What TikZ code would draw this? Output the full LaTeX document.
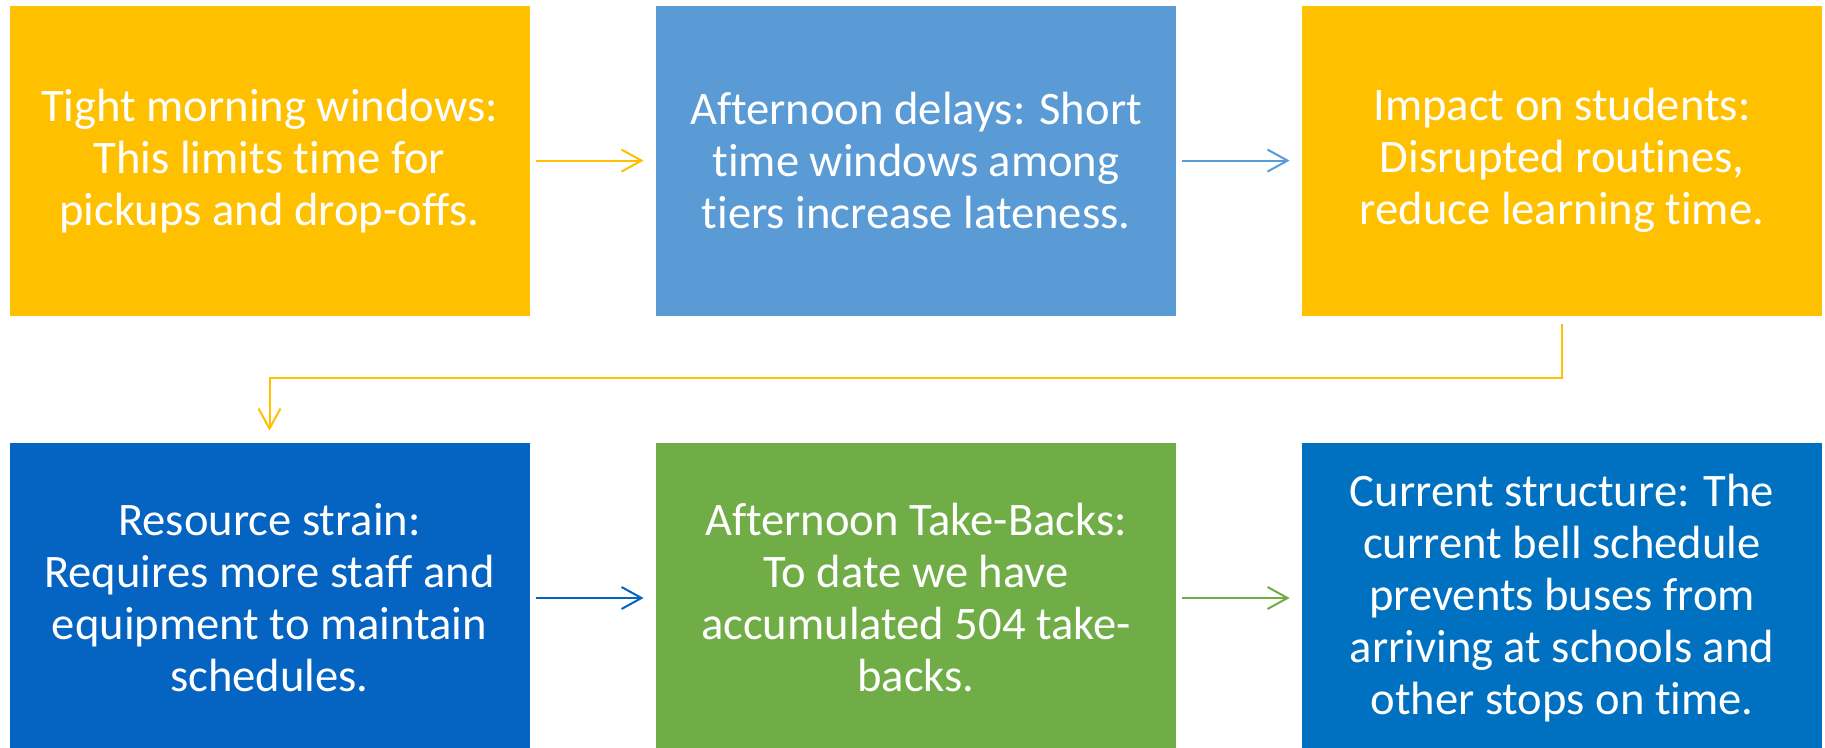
\documentclass[tikz,border=0pt]{standalone}
\usepackage{fontspec}
\setmainfont{Carlito}[Ligatures=NoCommon]
\usetikzlibrary{arrows.meta}
\definecolor{cyellow}{HTML}{FFC000}
\definecolor{clblue}{HTML}{5B9BD5}
\definecolor{cdblue}{HTML}{0563C1}
\definecolor{cgreen}{HTML}{70AD47}
\definecolor{cmblue}{HTML}{0070C0}
\tikzset{
  stepbox/.style={rectangle, minimum width=260pt, minimum height=155pt, inner sep=0pt,
    text=white, align=center, font=\fontsize{23.3}{26}\selectfont},
  flow/.style={line width=1pt, -{Straight Barb[length=10pt,width=11pt,line width=1pt]},
    shorten <=3pt, shorten >=6pt}
}
\begin{document}
\begin{tikzpicture}[x=0.5pt,y=-0.5pt]
\path[use as bounding box, fill=white] (0,0) rectangle (1825,748);
\node[stepbox, fill=cyellow] (b1) at (269.5,160.6) {Tight morning windows:\\This limits time for\\pickups and drop-offs.};
\node[stepbox, fill=clblue] (b2) at (916,160.6) {Afternoon delays: Short\\time windows among\\tiers increase lateness.};
\node[stepbox, fill=cyellow] (b3) at (1562,160.6) {Impact on students:\\Disrupted routines,\\reduce learning time.};
\node[stepbox, fill=cdblue] (b4) at (269.5,598) {Resource strain:\\Requires more staff and\\equipment to maintain\\schedules.};
\node[stepbox, fill=cgreen] (b5) at (916,598) {Afternoon Take-Backs:\\To date we have\\accumulated 504 take-\\backs.};
\node[stepbox, fill=cmblue] (b6) at (1562,598) {Current structure: The\\current bell schedule\\prevents buses from\\arriving at schools and\\other stops on time.};
\draw[flow, cyellow] (b1.east) -- (b2.west);
\draw[flow, clblue] (b2.east) -- (b3.west);
\draw[flow, cyellow, shorten <=4pt] (b3.south) -- ++(0,62.4) -| (b4.north);
\draw[flow, cdblue] (b4.east) -- (b5.west);
\draw[flow, cgreen] (b5.east) -- (b6.west);
\end{tikzpicture}
\end{document}
